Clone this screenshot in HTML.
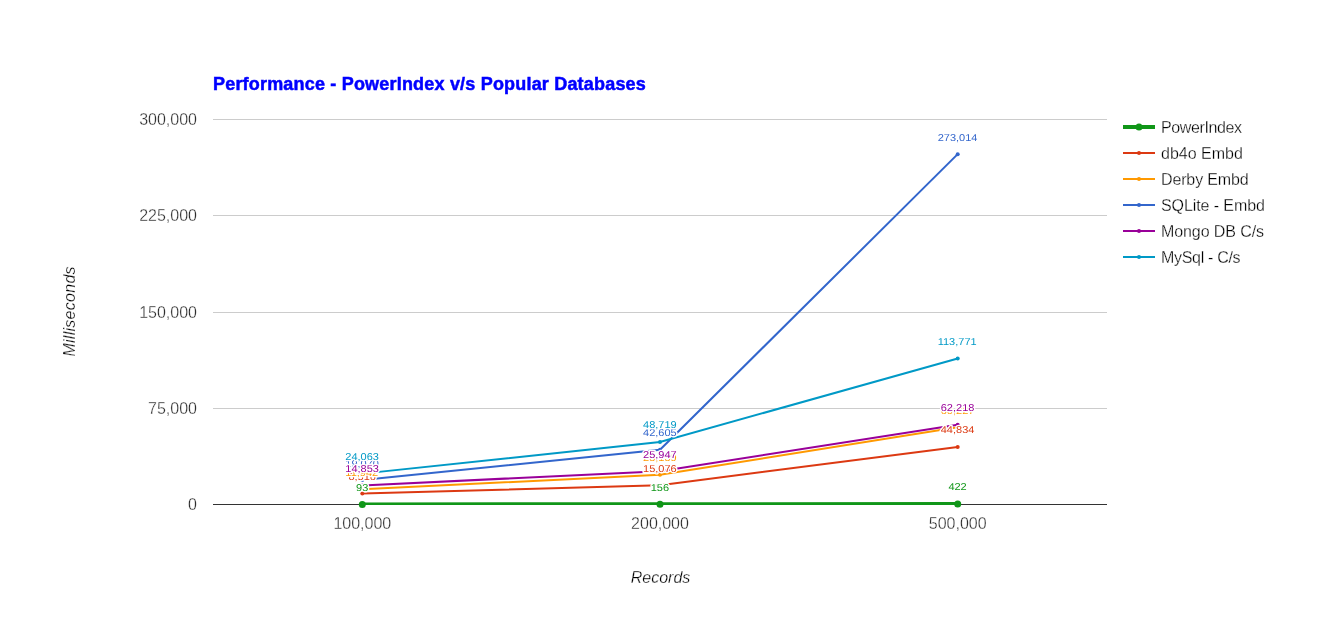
<!DOCTYPE html>
<html><head><meta charset="utf-8"><title>Performance - PowerIndex v/s Popular Databases</title>
<style>html,body{margin:0;padding:0;background:#fff;overflow:hidden}svg{display:block}text{font-family:"Liberation Sans",Arial,sans-serif}</style></head><body>
<svg width="1319" height="624" viewBox="0 0 1319 624">
<rect width="1319" height="624" fill="#fff"/>
<text x="213" y="90" font-size="18" font-weight="bold" fill="#0000ff" stroke="#0000ff" stroke-width="0.5" textLength="432.8" lengthAdjust="spacing">Performance - PowerIndex v/s Popular Databases</text>
<rect x="213" y="119" width="894" height="1" fill="#cccccc"/>
<rect x="213" y="215" width="894" height="1" fill="#cccccc"/>
<rect x="213" y="312" width="894" height="1" fill="#cccccc"/>
<rect x="213" y="408" width="894" height="1" fill="#cccccc"/>
<rect x="213" y="504" width="894" height="1" fill="#333333"/>
<defs><clipPath id="ca"><rect x="213" y="119" width="894" height="386"/></clipPath></defs>
<g clip-path="url(#ca)">
<polyline points="362.3,504.38 660,504.30 957.7,503.96" fill="none" stroke="#109618" stroke-width="4"/>
<polyline points="362.3,493.57 660,485.15 957.7,446.96" fill="none" stroke="#dc3912" stroke-width="2"/>
<polyline points="362.3,489.17 660,474.80 957.7,427.21" fill="none" stroke="#ff9900" stroke-width="2"/>
<polyline points="362.3,480.03 660,449.82 957.7,154.13" fill="none" stroke="#3366cc" stroke-width="2"/>
<polyline points="362.3,485.44 660,471.20 957.7,424.65" fill="none" stroke="#990099" stroke-width="2"/>
<polyline points="362.3,473.62 660,441.98 957.7,358.49" fill="none" stroke="#0099c6" stroke-width="2"/>
</g>
<circle cx="362.3" cy="504.38" r="3.5" fill="#109618"/>
<circle cx="660" cy="504.30" r="3.5" fill="#109618"/>
<circle cx="957.7" cy="503.96" r="3.5" fill="#109618"/>
<circle cx="362.3" cy="493.57" r="2" fill="#dc3912"/>
<circle cx="660" cy="485.15" r="2" fill="#dc3912"/>
<circle cx="957.7" cy="446.96" r="2" fill="#dc3912"/>
<circle cx="362.3" cy="489.17" r="2" fill="#ff9900"/>
<circle cx="660" cy="474.80" r="2" fill="#ff9900"/>
<circle cx="957.7" cy="427.21" r="2" fill="#ff9900"/>
<circle cx="362.3" cy="480.03" r="2" fill="#3366cc"/>
<circle cx="660" cy="449.82" r="2" fill="#3366cc"/>
<circle cx="957.7" cy="154.13" r="2" fill="#3366cc"/>
<circle cx="362.3" cy="485.44" r="2" fill="#990099"/>
<circle cx="660" cy="471.20" r="2" fill="#990099"/>
<circle cx="957.7" cy="424.65" r="2" fill="#990099"/>
<circle cx="362.3" cy="473.62" r="2" fill="#0099c6"/>
<circle cx="660" cy="441.98" r="2" fill="#0099c6"/>
<circle cx="957.7" cy="358.49" r="2" fill="#0099c6"/>
<text transform="translate(356.03,491) scale(1.1,1)" font-size="10" fill="#109618" stroke="#fff" stroke-width="2.6" stroke-linejoin="round" paint-order="stroke" text-rendering="geometricPrecision">93</text>
<text transform="translate(650.68,491) scale(1.1,1)" font-size="10" fill="#109618" stroke="#fff" stroke-width="2.6" stroke-linejoin="round" paint-order="stroke" text-rendering="geometricPrecision">156</text>
<text transform="translate(948.38,490) scale(1.1,1)" font-size="10" fill="#109618" stroke="#fff" stroke-width="2.6" stroke-linejoin="round" paint-order="stroke" text-rendering="geometricPrecision">422</text>
<text transform="translate(348.39,480) scale(1.1,1)" font-size="10" fill="#dc3912" stroke="#fff" stroke-width="2.6" stroke-linejoin="round" paint-order="stroke" text-rendering="geometricPrecision">8,516</text>
<text transform="translate(643.03,472) scale(1.1,1)" font-size="10" fill="#dc3912" stroke="#fff" stroke-width="2.6" stroke-linejoin="round" paint-order="stroke" text-rendering="geometricPrecision">15,076</text>
<text transform="translate(940.73,433) scale(1.1,1)" font-size="10" fill="#dc3912" stroke="#fff" stroke-width="2.6" stroke-linejoin="round" paint-order="stroke" text-rendering="geometricPrecision">44,834</text>
<text transform="translate(345.33,476) scale(1.1,1)" font-size="10" fill="#ff9900" stroke="#fff" stroke-width="2.6" stroke-linejoin="round" paint-order="stroke" text-rendering="geometricPrecision">11,942</text>
<text transform="translate(643.03,461) scale(1.1,1)" font-size="10" fill="#ff9900" stroke="#fff" stroke-width="2.6" stroke-linejoin="round" paint-order="stroke" text-rendering="geometricPrecision">23,139</text>
<text transform="translate(940.73,414) scale(1.1,1)" font-size="10" fill="#ff9900" stroke="#fff" stroke-width="2.6" stroke-linejoin="round" paint-order="stroke" text-rendering="geometricPrecision">60,227</text>
<text transform="translate(345.33,467) scale(1.1,1)" font-size="10" fill="#3366cc" stroke="#fff" stroke-width="2.6" stroke-linejoin="round" paint-order="stroke" text-rendering="geometricPrecision">19,070</text>
<text transform="translate(643.03,436) scale(1.1,1)" font-size="10" fill="#3366cc" stroke="#fff" stroke-width="2.6" stroke-linejoin="round" paint-order="stroke" text-rendering="geometricPrecision">42,605</text>
<text transform="translate(937.67,141) scale(1.1,1)" font-size="10" fill="#3366cc" stroke="#fff" stroke-width="2.6" stroke-linejoin="round" paint-order="stroke" text-rendering="geometricPrecision">273,014</text>
<text transform="translate(345.33,472) scale(1.1,1)" font-size="10" fill="#990099" stroke="#fff" stroke-width="2.6" stroke-linejoin="round" paint-order="stroke" text-rendering="geometricPrecision">14,853</text>
<text transform="translate(643.03,458) scale(1.1,1)" font-size="10" fill="#990099" stroke="#fff" stroke-width="2.6" stroke-linejoin="round" paint-order="stroke" text-rendering="geometricPrecision">25,947</text>
<text transform="translate(940.73,411) scale(1.1,1)" font-size="10" fill="#990099" stroke="#fff" stroke-width="2.6" stroke-linejoin="round" paint-order="stroke" text-rendering="geometricPrecision">62,218</text>
<text transform="translate(345.33,460) scale(1.1,1)" font-size="10" fill="#0099c6" stroke="#fff" stroke-width="2.6" stroke-linejoin="round" paint-order="stroke" text-rendering="geometricPrecision">24,063</text>
<text transform="translate(643.03,428) scale(1.1,1)" font-size="10" fill="#0099c6" stroke="#fff" stroke-width="2.6" stroke-linejoin="round" paint-order="stroke" text-rendering="geometricPrecision">48,719</text>
<text transform="translate(937.67,345) scale(1.1,1)" font-size="10" fill="#0099c6" stroke="#fff" stroke-width="2.6" stroke-linejoin="round" paint-order="stroke" text-rendering="geometricPrecision">113,771</text>
<text x="197" y="125.0" text-anchor="end" font-size="16" fill="#2c2c2c" stroke="#ffffff" stroke-width="0.3">300,000</text>
<text x="197" y="221.2" text-anchor="end" font-size="16" fill="#2c2c2c" stroke="#ffffff" stroke-width="0.3">225,000</text>
<text x="197" y="317.5" text-anchor="end" font-size="16" fill="#2c2c2c" stroke="#ffffff" stroke-width="0.3">150,000</text>
<text x="197" y="413.8" text-anchor="end" font-size="16" fill="#2c2c2c" stroke="#ffffff" stroke-width="0.3">75,000</text>
<text x="197" y="510.0" text-anchor="end" font-size="16" fill="#2c2c2c" stroke="#ffffff" stroke-width="0.3">0</text>
<text x="362.3" y="528.5" text-anchor="middle" font-size="16" fill="#2c2c2c" stroke="#ffffff" stroke-width="0.3">100,000</text>
<text x="660" y="528.5" text-anchor="middle" font-size="16" fill="#2c2c2c" stroke="#ffffff" stroke-width="0.3">200,000</text>
<text x="957.7" y="528.5" text-anchor="middle" font-size="16" fill="#2c2c2c" stroke="#ffffff" stroke-width="0.3">500,000</text>
<text x="660.5" y="583" text-anchor="middle" font-size="16" font-style="italic" fill="#000000" stroke="#ffffff" stroke-width="0.28">Records</text>
<text transform="translate(75,311.5) rotate(-90)" text-anchor="middle" textLength="90.2" lengthAdjust="spacing" font-size="16" font-style="italic" fill="#000000" stroke="#ffffff" stroke-width="0.28">Milliseconds</text>
<line x1="1123" x2="1155" y1="127" y2="127" stroke="#109618" stroke-width="4"/>
<circle cx="1139" cy="127" r="3.5" fill="#109618"/>
<text x="1161" y="132.5" font-size="16" fill="#000000" stroke="#ffffff" stroke-width="0.28" textLength="81.1" lengthAdjust="spacing">PowerIndex</text>
<line x1="1123" x2="1155" y1="153" y2="153" stroke="#dc3912" stroke-width="2"/>
<circle cx="1139" cy="153" r="2" fill="#dc3912"/>
<text x="1161" y="158.5" font-size="16" fill="#000000" stroke="#ffffff" stroke-width="0.28" textLength="81.8" lengthAdjust="spacing">db4o Embd</text>
<line x1="1123" x2="1155" y1="179" y2="179" stroke="#ff9900" stroke-width="2"/>
<circle cx="1139" cy="179" r="2" fill="#ff9900"/>
<text x="1161" y="184.5" font-size="16" fill="#000000" stroke="#ffffff" stroke-width="0.28" textLength="87.7" lengthAdjust="spacing">Derby Embd</text>
<line x1="1123" x2="1155" y1="205" y2="205" stroke="#3366cc" stroke-width="2"/>
<circle cx="1139" cy="205" r="2" fill="#3366cc"/>
<text x="1161" y="210.5" font-size="16" fill="#000000" stroke="#ffffff" stroke-width="0.28" textLength="103.9" lengthAdjust="spacing">SQLite - Embd</text>
<line x1="1123" x2="1155" y1="231" y2="231" stroke="#990099" stroke-width="2"/>
<circle cx="1139" cy="231" r="2" fill="#990099"/>
<text x="1161" y="236.5" font-size="16" fill="#000000" stroke="#ffffff" stroke-width="0.28" textLength="103.0" lengthAdjust="spacing">Mongo DB C/s</text>
<line x1="1123" x2="1155" y1="257" y2="257" stroke="#0099c6" stroke-width="2"/>
<circle cx="1139" cy="257" r="2" fill="#0099c6"/>
<text x="1161" y="262.5" font-size="16" fill="#000000" stroke="#ffffff" stroke-width="0.28" textLength="79.6" lengthAdjust="spacing">MySql - C/s</text>
</svg></body></html>
